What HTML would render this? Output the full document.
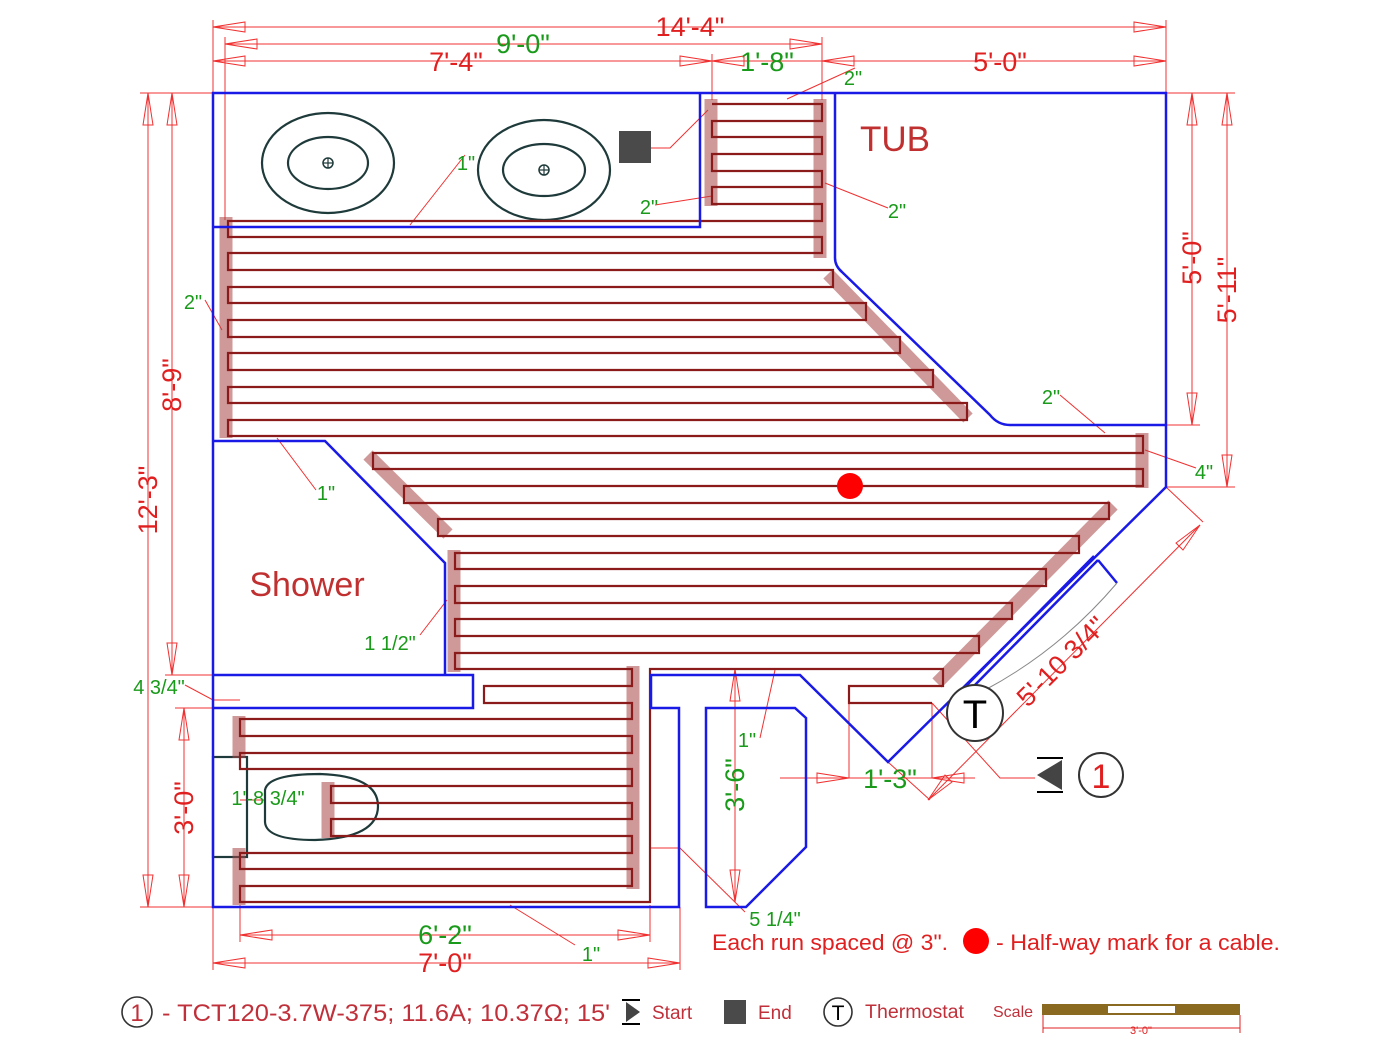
<!DOCTYPE html>
<html><head><meta charset="utf-8"><style>
html,body{margin:0;padding:0;background:#fff}
svg{display:block;font-family:"Liberation Sans",Arial,sans-serif}
.w{fill:none;stroke:#1a1ae6;stroke-width:2.5}
.d{stroke:#f03030;stroke-width:1;fill:none}
.dt{fill:#e02020}
.g{fill:#1a9a1a}
.bar{stroke:rgba(170,70,70,0.55);stroke-width:13;fill:none}
.ah{fill:none;stroke:#f03030;stroke-width:1}
</style></head><body>
<svg width="1400" height="1049" viewBox="0 0 1400 1049" xmlns="http://www.w3.org/2000/svg">
<g class="d">
<line x1="213" y1="27" x2="1166" y2="27"/>
<line x1="225" y1="44" x2="822" y2="44"/>
<line x1="213" y1="61" x2="1166" y2="61"/>
<line x1="213" y1="20" x2="213" y2="93"/><line x1="1166" y1="20" x2="1166" y2="93"/>
<line x1="225" y1="37" x2="225" y2="220"/><line x1="822" y1="37" x2="822" y2="100"/>
<line x1="712" y1="54" x2="712" y2="100"/>
<line x1="140" y1="93" x2="1235" y2="93"/>
<line x1="148" y1="93" x2="148" y2="907"/>
<line x1="172" y1="93" x2="172" y2="675"/>
<line x1="184" y1="708" x2="184" y2="907"/>
<line x1="1192" y1="93" x2="1192" y2="425"/>
<line x1="1227" y1="93" x2="1227" y2="487"/>
<line x1="1166" y1="425" x2="1200" y2="425"/><line x1="1166" y1="487" x2="1235" y2="487"/>
<line x1="140" y1="907" x2="213" y2="907"/><line x1="165" y1="675" x2="213" y2="675"/><line x1="175" y1="708" x2="213" y2="708"/>
<line x1="240" y1="935" x2="650" y2="935"/><line x1="240" y1="905" x2="240" y2="942"/><line x1="650" y1="905" x2="650" y2="942"/>
<line x1="213" y1="963" x2="680" y2="963"/><line x1="213" y1="907" x2="213" y2="970"/><line x1="680" y1="907" x2="680" y2="970"/>
<line x1="735" y1="669" x2="735" y2="902"/>
<line x1="780" y1="778" x2="975" y2="778"/>
<line x1="849" y1="703" x2="849" y2="778"/><line x1="932" y1="703" x2="932" y2="778"/>
<line x1="1166" y1="487" x2="1203" y2="522"/><line x1="888" y1="762" x2="930" y2="800"/>
<line x1="928" y1="800" x2="1200" y2="525"/>
<polyline points="787,99 855,68"/>
<polyline points="410,225 465,155"/>
<polyline points="655,205 712,196"/>
<polyline points="825,183 888,208"/>
<polyline points="205,300 222,330"/>
<polyline points="1060,395 1105,433"/>
<polyline points="1145,450 1196,468"/>
<polyline points="277,438 316,490"/>
<polyline points="420,635 447,600"/>
<polyline points="185,685 213,700 240,700"/>
<polyline points="775,670 760,738"/>
<polyline points="650,848 680,848 745,912"/>
<polyline points="510,905 575,945"/>
<polyline points="651,148 670,148 708,110"/>
<polyline points="932,703 1000,778 1035,778"/>
<polyline points="240,800 265,800"/>
</g>
<g class="ah">
<polygon points="213,27 245,22 245,32"/><polygon points="1166,27 1134,22 1134,32"/>
<polygon points="225,44 257,39 257,49"/><polygon points="822,44 790,39 790,49"/>
<polygon points="213,61 245,56 245,66"/><polygon points="712,61 680,56 680,66"/>
<polygon points="712,61 744,56 744,66"/><polygon points="822,61 854,56 854,66"/><polygon points="1166,61 1134,56 1134,66"/>
<polygon points="148,93 143,125 153,125"/><polygon points="148,907 143,875 153,875"/>
<polygon points="172,93 167,125 177,125"/><polygon points="172,675 167,643 177,643"/>
<polygon points="184,708 179,740 189,740"/><polygon points="184,907 179,875 189,875"/>
<polygon points="1192,93 1187,125 1197,125"/><polygon points="1192,425 1187,393 1197,393"/>
<polygon points="1227,93 1222,125 1232,125"/><polygon points="1227,487 1222,455 1232,455"/>
<polygon points="240,935 272,930 272,940"/><polygon points="650,935 618,930 618,940"/>
<polygon points="213,963 245,958 245,968"/><polygon points="680,963 648,958 648,968"/>
<polygon points="735,669 730,701 740,701"/><polygon points="735,902 730,870 740,870"/>
<polygon points="849,778 817,773 817,783"/><polygon points="932,778 964,773 964,783"/>
<polygon points="1200,525 1176,543 1183,550"/><polygon points="928,800 952,782 945,775"/>
</g>
<g fill="none" stroke="#1f3a3a" stroke-width="2.2">
<ellipse cx="328" cy="163" rx="66" ry="50"/><ellipse cx="328" cy="163" rx="40" ry="26"/>
<circle cx="328" cy="163" r="5" stroke-width="1.5"/>
<ellipse cx="544" cy="170" rx="66" ry="50"/><ellipse cx="544" cy="170" rx="41" ry="26"/>
<circle cx="544" cy="170" r="5" stroke-width="1.5"/>
<rect x="213" y="757" width="34" height="100"/>
<path d="M265,790 Q268,774 320,774 Q378,776 378,806 Q378,838 315,840 Q266,840 265,822 Z"/>
</g>
<g stroke="#1f3a3a" stroke-width="1.2"><line x1="323" y1="163" x2="333" y2="163"/><line x1="328" y1="158" x2="328" y2="168"/><line x1="539" y1="170" x2="549" y2="170"/><line x1="544" y1="165" x2="544" y2="175"/></g>
<rect x="619" y="131" width="32" height="32" fill="#4a4a4a"/>
<g class="bar">
<line x1="711" y1="99" x2="711" y2="206"/>
<line x1="820" y1="99" x2="820" y2="258"/>
<line x1="226" y1="217" x2="226" y2="438"/>
<line x1="828" y1="274" x2="968" y2="418"/>
<line x1="1142" y1="433" x2="1142" y2="488"/>
<line x1="368" y1="455" x2="448" y2="534"/>
<line x1="454" y1="550" x2="454" y2="672"/>
<line x1="1113" y1="505" x2="937" y2="683"/>
<line x1="633" y1="666" x2="633" y2="889"/>
<line x1="239" y1="716" x2="239" y2="758"/>
<line x1="239" y1="848" x2="239" y2="905"/>
<line x1="328" y1="782" x2="328" y2="838"/>
</g>
<polyline fill="none" stroke="#8b1a1a" stroke-width="2.2" points="712,104 822,104 822,121 712,121 712,137 822,137 822,154 712,154 712,171 822,171 822,187 712,187 712,204 822,204 822,221 228,221 228,237 822,237 822,253 228,253 228,270 833,270 833,287 228,287 228,303 866,303 866,320 228,320 228,337 900,337 900,353 228,353 228,370 933,370 933,387 228,387 228,403 967,403 967,420 228,420 228,436 1143,436 1143,453 373,453 373,469 1143,469 1143,486 404,486 404,503 1109,503 1109,519 438,519 438,536 1079,536 1079,553 455,553 455,569 1046,569 1046,586 455,586 455,603 1012,603 1012,619 455,619 455,636 979,636 979,653 455,653 455,669 632,669 632,686 484,686 484,703 632,703 632,719 240,719 240,736 632,736 632,753 240,753 240,769 632,769 632,786 331,786 331,803 632,803 632,819 331,819 331,836 632,836 632,853 240,853 240,869 632,869 632,886 240,886 240,902 650,902 650,669 943,669 943,686 849,686 849,703 932,703"/>
<path class="w" d="M213,93 H1166 V487 L888,762 L800,675 H651 V708 H679 V907 H213 Z"/>
<path class="w" d="M213,227 H700 V93"/>
<path class="w" d="M835,93 V258 Q835,266 842,272 L990,415 Q998,425 1010,425 H1166"/>
<path class="w" d="M213,441 H325 L445,563 V675"/>
<path class="w" d="M213,675 H473 V708 H213"/>
<path class="w" d="M706,708 H795 L806,718 V847 L746,907 H706 Z"/>
<path class="w" d="M1098,560 L970,690 M1094,556 L966,686 M1098,560 L1117,583"/>
<path d="M1117,583 Q1060,650 985,690" fill="none" stroke="#888" stroke-width="1"/>
<circle cx="850" cy="486" r="13" fill="#f00"/>
<circle cx="975" cy="713" r="28" fill="#fff" stroke="#333" stroke-width="2"/>
<text x="975" y="728" font-size="40" text-anchor="middle" fill="#000">T</text>
<polygon points="1037,775 1062,760 1062,790" fill="#444"/>
<line x1="1037" y1="758" x2="1063" y2="758" stroke="#000" stroke-width="2"/>
<line x1="1037" y1="792" x2="1063" y2="792" stroke="#000" stroke-width="2"/>
<circle cx="1101" cy="775" r="22" fill="none" stroke="#333" stroke-width="2"/>
<text x="1101" y="788" font-size="34" text-anchor="middle" fill="#e02020">1</text>
<g class="dt" font-size="27">
<text x="690" y="36" text-anchor="middle">14'-4"</text>
<text x="456" y="71" text-anchor="middle">7'-4"</text>
<text x="1000" y="71" text-anchor="middle">5'-0"</text>
<text x="445" y="972" text-anchor="middle">7'-0"</text>
<text transform="translate(157,500) rotate(-90)" text-anchor="middle">12'-3"</text>
<text transform="translate(181,385) rotate(-90)" text-anchor="middle">8'-9"</text>
<text transform="translate(193,808) rotate(-90)" text-anchor="middle">3'-0"</text>
<text transform="translate(1201,258) rotate(-90)" text-anchor="middle">5'-0"</text>
<text transform="translate(1236,290) rotate(-90)" text-anchor="middle">5'-11"</text>
<text transform="translate(1068,668) rotate(-45)" text-anchor="middle">5'-10 3/4"</text>
</g>
<text x="895" y="151" font-size="35" fill="#c03030" text-anchor="middle">TUB</text>
<text x="307" y="596" font-size="34" fill="#c03030" text-anchor="middle">Shower</text>
<g class="g" font-size="27">
<text x="523" y="53" text-anchor="middle">9'-0"</text>
<text x="767" y="71" text-anchor="middle">1'-8"</text>
<text x="445" y="944" text-anchor="middle">6'-2"</text>
<text x="890" y="788" text-anchor="middle">1'-3"</text>
<text transform="translate(744,785) rotate(-90)" text-anchor="middle">3'-6"</text>
</g>
<g class="g" font-size="20">
<text x="853" y="85" text-anchor="middle">2"</text>
<text x="466" y="170" text-anchor="middle">1"</text>
<text x="649" y="214" text-anchor="middle">2"</text>
<text x="897" y="218" text-anchor="middle">2"</text>
<text x="193" y="309" text-anchor="middle">2"</text>
<text x="1051" y="404" text-anchor="middle">2"</text>
<text x="1204" y="479" text-anchor="middle">4"</text>
<text x="326" y="500" text-anchor="middle">1"</text>
<text x="390" y="650" text-anchor="middle">1 1/2"</text>
<text x="159" y="694" text-anchor="middle">4 3/4"</text>
<text x="268" y="805" text-anchor="middle">1'-8 3/4"</text>
<text x="747" y="747" text-anchor="middle">1"</text>
<text x="775" y="926" text-anchor="middle">5 1/4"</text>
<text x="591" y="961" text-anchor="middle">1"</text>
</g>
<g fill="#e02020" font-size="22">
<text x="712" y="950" textLength="236" lengthAdjust="spacingAndGlyphs">Each run spaced @ 3".</text>
<circle cx="976" cy="941" r="13" fill="#f00"/>
<text x="996" y="950" textLength="284" lengthAdjust="spacingAndGlyphs">- Half-way mark for a cable.</text>
</g>
<circle cx="137" cy="1012" r="15" fill="none" stroke="#333" stroke-width="1.6"/>
<text x="137" y="1021" font-size="24" text-anchor="middle" fill="#c0303a">1</text>
<text x="162" y="1021" font-size="24" fill="#c0303a" textLength="448" lengthAdjust="spacingAndGlyphs">- TCT120-3.7W-375; 11.6A; 10.37Ω; 15'</text>
<line x1="622" y1="1000" x2="640" y2="1000" stroke="#000" stroke-width="2"/>
<line x1="622" y1="1024" x2="640" y2="1024" stroke="#000" stroke-width="2"/>
<polygon points="626,1002 640,1012 626,1022" fill="#444"/>
<text x="652" y="1019" font-size="19" fill="#c0303a">Start</text>
<rect x="724" y="1000" width="22" height="24" fill="#4a4a4a"/>
<text x="758" y="1019" font-size="19" fill="#c0303a">End</text>
<circle cx="838" cy="1012" r="14" fill="none" stroke="#333" stroke-width="1.6"/>
<text x="838" y="1020" font-size="21" text-anchor="middle" fill="#000">T</text>
<text x="865" y="1018" font-size="19" fill="#c0303a" textLength="99" lengthAdjust="spacingAndGlyphs">Thermostat</text>
<text x="993" y="1017" font-size="16" fill="#c0303a">Scale</text>
<rect x="1042" y="1004" width="198" height="11" fill="#8a6a20"/>
<rect x="1108" y="1006" width="67" height="7" fill="#fff"/>
<line x1="1043" y1="1015" x2="1043" y2="1033" stroke="#e02020"/><line x1="1240" y1="1015" x2="1240" y2="1033" stroke="#e02020"/>
<line x1="1043" y1="1028" x2="1240" y2="1028" stroke="#e02020"/>
<text x="1141" y="1034" font-size="11" text-anchor="middle" fill="#e02020">3'-0"</text>
</svg>
</body></html>
